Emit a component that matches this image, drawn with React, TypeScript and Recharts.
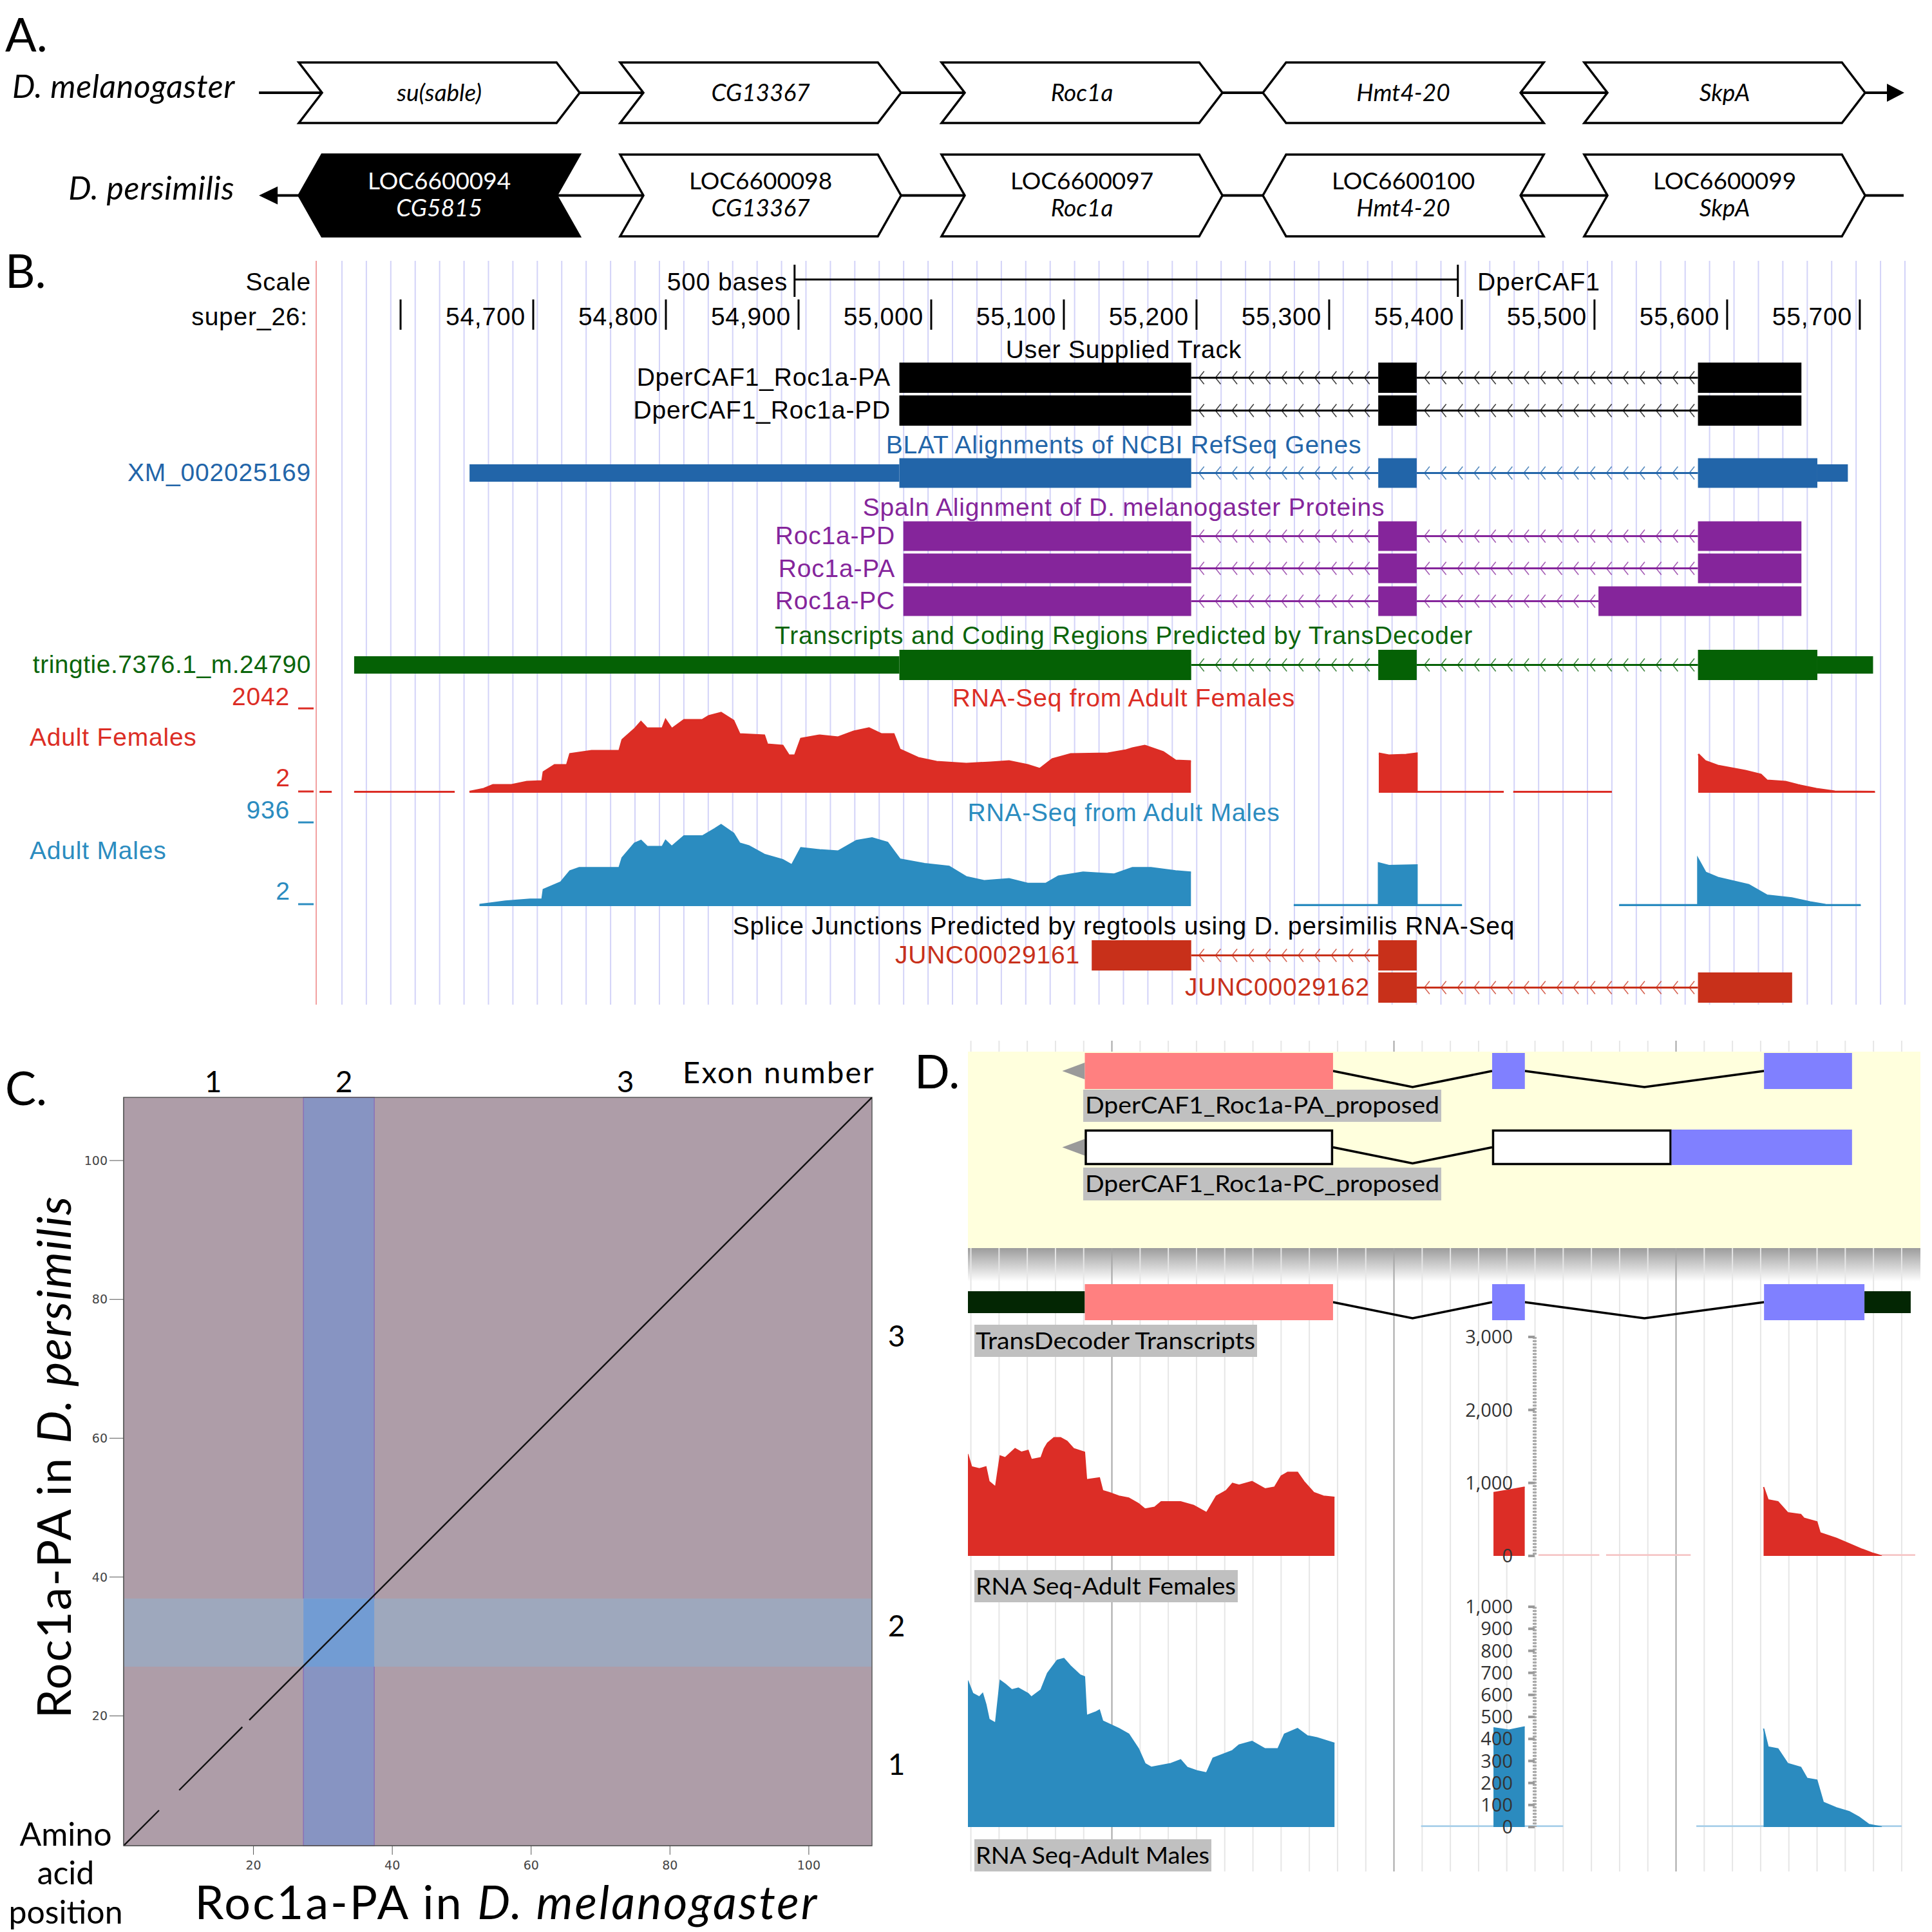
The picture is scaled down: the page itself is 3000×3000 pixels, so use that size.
import React from 'react';
import { ComposedChart, XAxis, YAxis, ReferenceArea, ReferenceLine, Area, Line } from 'recharts';

const ARIAL = '"Liberation Sans", Arial, sans-serif';
const LATO = 'Lato, "Open Sans", sans-serif';
const OPEN = '"Open Sans", sans-serif';
const M0 = { top: 0, right: 0, bottom: 0, left: 0 };

// ---------------- Panel A data ----------------
const A_MEL_NAMES = ['su(sable)', 'CG13367', 'Roc1a', 'Hmt4-20', 'SkpA'];
const A_MEL_STRAND = [1, 1, 1, -1, 1];
const A_PER_IDS = ['LOC6600094', 'LOC6600098', 'LOC6600097', 'LOC6600100', 'LOC6600099'];
const A_PER_NAMES = ['CG5815', 'CG13367', 'Roc1a', 'Hmt4-20', 'SkpA'];
const A_PER_STRAND = [-1, 1, 1, -1, 1];
const A_PER_NOVEL = [true, false, false, false, false];
const A_SLOTS = [0, 1, 2, 3, 4];

// ---------------- Panel B data (genomic coordinates on super_26) ----------------
const B_RULER_TICKS = [54600, 54700, 54800, 54900, 55000, 55100, 55200, 55300, 55400, 55500, 55600, 55700];
const B_SCALE_BAR = [54897, 55397];
const USER_TRACK = [
  { name: 'DperCAF1_Roc1a-PA', blocks: [[54976, 55196], [55337, 55366], [55578, 55656]] },
  { name: 'DperCAF1_Roc1a-PD', blocks: [[54976, 55196], [55337, 55366], [55578, 55656]] },
];
const REFSEQ = { name: 'XM_002025169', blocks: [[54652, 55196], [55337, 55366], [55578, 55691]], thick: [54976, 55668] };
const SPALN = [
  { name: 'Roc1a-PD', blocks: [[54979, 55196], [55337, 55366], [55578, 55656]] },
  { name: 'Roc1a-PA', blocks: [[54979, 55196], [55337, 55366], [55578, 55656]] },
  { name: 'Roc1a-PC', blocks: [[54979, 55196], [55337, 55366], [55503, 55656]] },
];
const TRANSDECODER = { name: 'tringtie.7376.1_m.24790', blocks: [[54565, 55196], [55337, 55366], [55578, 55710]], thick: [54976, 55668] };
const JUNCTIONS = [
  { name: 'JUNC00029161', blocks: [[55121, 55196], [55337, 55366]] },
  { name: 'JUNC00029162', blocks: [[55337, 55366], [55578, 55649]] },
];
const B_FEMALE_MAX = 2042;
const B_FEMALE = [
  [[54538.9, 25], [54548.1, 25]],
  [[54565.0, 25], [54640.8, 25]],
  [[54651.9, 25], [54662.7, 94], [54669.7, 187], [54683.6, 187], [54695.2, 265], [54706.8, 281], [54707.8, 499], [54716.1, 671], [54725.4, 671], [54727.8, 936], [54744.0, 1014], [54764.9, 1014], [54767.2, 1279], [54776.5, 1544], [54781.2, 1716], [54785.8, 1560], [54797.4, 1560], [54799.8, 1763], [54804.4, 1544], [54813.7, 1763], [54827.6, 1763], [54832.3, 1856], [54841.6, 1934], [54850.9, 1747], [54855.5, 1420], [54874.1, 1388], [54876.4, 1170], [54888.0, 1139], [54892.7, 905], [54897.3, 905], [54901.9, 1310], [54915.9, 1388], [54929.8, 1342], [54941.5, 1482], [54953.1, 1560], [54962.3, 1420], [54971.7, 1420], [54976.3, 1045], [54990.2, 842], [55004.1, 749], [55026.5, 702], [55044.8, 733], [55058.7, 764], [55072.7, 671], [55081.9, 577], [55091.3, 811], [55105.2, 936], [55133.1, 952], [55147.0, 1030], [55151.7, 1076], [55160.9, 1139], [55174.9, 983], [55184.2, 780], [55195.8, 764]],
  [[55337.4, 950], [55345, 905], [55358, 920], [55366.0, 950], [55366.0, 25], [55431.6, 25]],
  [[55438.8, 25], [55513.1, 25]],
  [[55578.2, 936], [55583.6, 764], [55592.9, 655], [55613.8, 530], [55625.4, 437], [55630.1, 296], [55644.0, 265], [55653.4, 187], [55667.3, 94], [55681.2, 31], [55711.4, 25]],
];
const B_MALE_MAX = 936;
const B_MALE = [
  [[54659.5, 15], [54679.0, 52], [54697.6, 74], [54706.8, 74], [54707.8, 184], [54720.8, 265], [54727.8, 391], [54734.7, 427], [54764.9, 427], [54767.2, 538], [54776.5, 700], [54781.2, 730], [54785.8, 663], [54797.4, 663], [54799.8, 730], [54804.4, 663], [54813.7, 781], [54827.6, 781], [54836.9, 862], [54841.6, 907], [54850.9, 811], [54855.5, 700], [54862.5, 671], [54874.1, 575], [54888.0, 516], [54895.0, 457], [54901.9, 649], [54915.9, 626], [54929.8, 612], [54943.7, 730], [54955.4, 759], [54967.0, 708], [54976.3, 523], [54994.9, 472], [55013.4, 442], [55026.5, 324], [55040.2, 280], [55058.7, 302], [55072.7, 251], [55086.6, 251], [55095.9, 332], [55114.5, 376], [55137.7, 354], [55151.7, 427], [55165.6, 427], [55184.2, 391], [55195.8, 376]],
  [[55273.3, 12], [55337.4, 12], [55337.4, 479], [55345, 450], [55366, 457], [55366, 12], [55400.1, 12]],
  [[55518.6, 12], [55578.1, 12], [55578.1, 523], [55583.6, 376], [55592.9, 317], [55616.2, 236], [55630.1, 118], [55648.7, 88], [55662.6, 44], [55674.2, 15], [55700.7, 12]],
];

// ---------------- Panel C data (amino-acid positions) ----------------
const C_TICKS = [20, 40, 60, 80, 100];
const C_MATCH_MEL = [[1.3, 6.4], [9.3, 18.4], [19.4, 109.1]];
const C_MATCH_PER = [[1.3, 6.4], [9.3, 18.4], [19.4, 109.1]];
const C_EXON2_MEL = [27.2, 37.4];
const C_EXON2_PER = [27.1, 36.9];

// ---------------- Panel D data ----------------
const D_PA_PROPOSED = { blocks: [[54976, 55196], [55337, 55366], [55578, 55656]], parts: [[54976, 55196, 'cdsA'], [55337, 55366, 'cdsB'], [55578, 55656, 'cdsB']] };
const D_PC_PROPOSED = { blocks: [[54976, 55196], [55337, 55656]], parts: [[54976, 55196, 'nc'], [55337, 55496, 'nc'], [55496, 55656, 'cdsB']] };
const D_TRANSDECODER = { blocks: [[54565, 55196], [55337, 55366], [55578, 55708]], parts: [[54565, 54976, 'utr'], [54976, 55196, 'cdsA'], [55337, 55366, 'cdsB'], [55578, 55667, 'cdsB'], [55667, 55708, 'utr']] };
const D_FEMALE_TICKS = [0, 1000, 2000, 3000];
const D_MALE_TICKS = [0, 100, 200, 300, 400, 500, 600, 700, 800, 900, 1000];
const D_FEMALE = [
  [[54872.2, 1395], [54875.6, 1219], [54882.5, 1194], [54888.3, 1219], [54891.1, 1018], [54896.9, 943], [54901.0, 1370], [54905.5, 1345], [54914.2, 1470], [54919.9, 1420], [54925.7, 1445], [54928.6, 1320], [54937.2, 1345], [54940.1, 1470], [54943.0, 1545], [54948.7, 1620], [54954.5, 1620], [54960.2, 1570], [54966.0, 1470], [54975.7, 1420], [54977.5, 1044], [54988.9, 1069], [54991.8, 893], [54997.6, 868], [55006.2, 818], [55014.9, 793], [55023.5, 717], [55029.3, 642], [55037.9, 667], [55043.7, 742], [55060.9, 742], [55072.4, 692], [55083.9, 592], [55092.6, 818], [55101.2, 893], [55106.9, 993], [55112.7, 968], [55124.2, 1018], [55135.7, 918], [55144.3, 943], [55150.1, 1094], [55155.8, 1144], [55164.5, 1144], [55170.2, 1018], [55178.9, 868], [55187.5, 818], [55197.3, 803]],
  [[55338.2, 868], [55351, 900], [55365.9, 943]],
  [[55577.6, 943], [55581.6, 768], [55590.3, 742], [55599.0, 592], [55610.5, 567], [55613.3, 517], [55624.8, 467], [55627.7, 316], [55642.1, 241], [55653.5, 166], [55665.1, 90], [55673.7, 40], [55682.4, 0]],
];
const D_FEMALE_LOW = [[55378, 55432], [55438, 55513], [55682, 55712]];
const D_MALE = [
  [[54872.2, 665], [54876.7, 606], [54882.5, 590], [54885.4, 606], [54888.3, 556], [54891.1, 489], [54896.9, 472], [54901.0, 665], [54905.5, 648], [54911.3, 623], [54917.1, 631], [54925.7, 606], [54928.6, 590], [54937.2, 623], [54943.0, 698], [54951.6, 757], [54957.4, 765], [54963.1, 732], [54971.8, 690], [54975.7, 682], [54977.5, 506], [54986.1, 523], [54988.9, 531], [54991.8, 481], [55006.2, 447], [55014.9, 422], [55023.5, 355], [55029.3, 288], [55035.0, 271], [55052.3, 288], [55060.9, 305], [55066.7, 271], [55075.3, 255], [55083.9, 246], [55089.7, 313], [55106.9, 347], [55112.7, 372], [55124.2, 389], [55135.7, 355], [55147.2, 355], [55153.0, 422], [55164.5, 447], [55173.1, 414], [55181.8, 405], [55197.3, 380]],
  [[55338.2, 450], [55352, 440], [55365.9, 455]],
  [[55577.6, 447], [55581.6, 363], [55590.3, 355], [55599.0, 288], [55610.5, 271], [55616.1, 221], [55624.8, 213], [55630.5, 112], [55642.1, 87], [55653.5, 70], [55662.1, 45], [55670.8, 12], [55682.4, 0]],
];
const D_MALE_LOW = [[55274, 55400], [55518, 55700]];

// ---------------- layout ----------------
const A_LEFT = 400, A_WIDTH = 2560;
const A_DOMAIN: [number, number] = [-0.1283, 5.002];
const A_BOX_W = 0.874;
const B_LEFT = 491, B_WIDTH = 2504;
const B_DOMAIN: [number, number] = [54536.4, 55752];
const D_LEFT = 1503, D_WIDTH = 1479;
const D_DOMAIN: [number, number] = [54872.4, 55716.6];
const C_DOMAIN: [number, number] = [1.3, 109.1];

const css = `.recharts-surface{overflow:visible}`;

const Abs = ({ left, top, children }: any) => (
  <div style={{ position: 'absolute', left, top }}>{children}</div>
);

const Ghost = () => <Line dataKey="y" stroke="none" dot={false} activeDot={false} isAnimationActive={false} />;

function rowsFromSegments(segs: number[][][]) {
  const rows: any[] = [];
  segs.forEach((seg, i) => {
    seg.forEach(([x, v]) => rows.push({ x, v }));
    if (i < segs.length - 1) rows.push({ x: (seg[seg.length - 1][0] + segs[i + 1][0][0]) / 2, v: null });
  });
  return rows;
}
function rowsFromRanges(ranges: number[][], val: number) {
  return rowsFromSegments(ranges.map(([s, e]) => [[s, val], [e, val]]));
}

// ---------------- Panel A ----------------
function chevronShape(dir: number, fill: string, textFill: string, l1: string, l1Italic: boolean, l2?: string) {
  return (p: any) => {
    const { x, y, width: w, height: h } = p;
    const d = 36, cy = y + h / 2, cx = x + w / 2;
    const pts = dir > 0
      ? [[x, y], [x + w - d, y], [x + w, cy], [x + w - d, y + h], [x, y + h], [x + d, cy]]
      : [[x + d, y], [x + w, y], [x + w - d, cy], [x + w, y + h], [x + d, y + h], [x, cy]];
    const tp = { fontFamily: LATO, fontSize: 37, fill: textFill, textAnchor: 'middle' as const };
    return (
      <g>
        <polygon points={pts.map((q) => q.join(',')).join(' ')} fill={fill} stroke="#000" strokeWidth={3.5} />
        {l2 ? (
          <>
            <text x={cx} y={cy - 10} {...tp}>{l1}</text>
            <text x={cx} y={cy + 32} {...tp} fontStyle="italic">{l2}</text>
          </>
        ) : (
          <text x={cx} y={cy + 13} {...tp} fontStyle={l1Italic ? 'italic' : 'normal'}>{l1}</text>
        )}
      </g>
    );
  };
}
function backboneShape(arrow: 'left' | 'right') {
  return (p: any) => {
    const { x, y, width: w, height: h } = p;
    const cy = y + h / 2;
    const tri = arrow === 'right'
      ? `${x + w},${cy} ${x + w - 27},${cy - 14} ${x + w - 27},${cy + 14}`
      : `${x},${cy} ${x + 29},${cy - 14} ${x + 29},${cy + 14}`;
    return (
      <g>
        <line x1={x + (arrow === 'left' ? 20 : 0)} x2={x + w - (arrow === 'right' ? 20 : 0)} y1={cy} y2={cy} stroke="#000" strokeWidth={4} />
        <polygon points={tri} fill="#000" />
      </g>
    );
  };
}
function ARow({ top, height, backbone, arrow, genes }: any) {
  return (
    <Abs left={A_LEFT} top={top}>
      <ComposedChart width={A_WIDTH} height={height} data={A_SLOTS.map((s) => ({ x: s, y: 0.5 }))} margin={M0}>
        <XAxis type="number" dataKey="x" domain={A_DOMAIN} hide allowDataOverflow />
        <YAxis type="number" domain={[0, 1]} hide />
        <ReferenceArea x1={backbone[0]} x2={backbone[1]} y1={0} y2={1} ifOverflow="visible" shape={backboneShape(arrow)} />
        {genes.map((g: any, i: number) => (
          <ReferenceArea key={i} x1={A_SLOTS[i]} x2={A_SLOTS[i] + A_BOX_W} y1={0} y2={1} ifOverflow="visible"
            shape={chevronShape(g.dir, g.fill, g.textFill, g.l1, g.l1Italic, g.l2)} />
        ))}
        <Ghost />
      </ComposedChart>
    </Abs>
  );
}

// ---------------- Panel B ----------------
function ucscIntron(color: string) {
  return (p: any) => {
    const { x, y, width: w, height: h } = p;
    const cy = y + h / 2;
    const ch: any[] = [];
    for (let cx = x + 12; cx < x + w - 6; cx += 25.7) {
      ch.push(<polyline key={cx} points={`${cx + 8},${cy - 10} ${cx},${cy} ${cx + 8},${cy + 10}`} fill="none" stroke={color} strokeOpacity={0.75} strokeWidth={1.6} />);
    }
    return (
      <g>
        <line x1={x} x2={x + w} y1={cy} y2={cy} stroke={color} strokeWidth={3} />
        {ch}
      </g>
    );
  };
}
function barShape(h: number, fill: string) {
  return (p: any) => <rect x={p.x} y={p.y + (p.height - h) / 2} width={p.width} height={h} fill={fill} />;
}
function UcscRow({ top, height, blocks, thick, color, thickH, thinH }: any) {
  const pieces: any[] = [];
  blocks.forEach(([s, e]: number[]) => {
    if (!thick) { pieces.push([s, e, thickH]); return; }
    const [ts, te] = thick;
    if (s < ts) pieces.push([s, Math.min(e, ts), thinH]);
    const a = Math.max(s, ts), b = Math.min(e, te);
    if (a < b) pieces.push([a, b, thickH]);
    if (e > te) pieces.push([Math.max(s, te), e, thinH]);
  });
  const introns = blocks.slice(1).map((b: number[], i: number) => [blocks[i][1], b[0]]);
  return (
    <Abs left={B_LEFT} top={top}>
      <ComposedChart width={B_WIDTH} height={height} data={blocks.map((b: number[]) => ({ x: b[0], y: 0.5 }))} margin={M0}>
        <XAxis type="number" dataKey="x" domain={B_DOMAIN} hide allowDataOverflow />
        <YAxis type="number" domain={[0, 1]} hide />
        {introns.map(([s, e]: number[], i: number) => (
          <ReferenceArea key={'i' + i} x1={s} x2={e} y1={0} y2={1} ifOverflow="visible" shape={ucscIntron(color)} />
        ))}
        {pieces.map(([s, e, h]: number[], i: number) => (
          <ReferenceArea key={'p' + i} x1={s} x2={e} y1={0} y2={1} ifOverflow="visible" shape={barShape(h, color)} />
        ))}
        <Ghost />
      </ComposedChart>
    </Abs>
  );
}
function Coverage({ left, top, width, height, domain, max, segments, color, strokeW = 3 }: any) {
  return (
    <Abs left={left} top={top}>
      <ComposedChart width={width} height={height} data={rowsFromSegments(segments)} margin={M0}>
        <XAxis type="number" dataKey="x" domain={domain} hide allowDataOverflow />
        <YAxis type="number" domain={[0, max]} hide allowDataOverflow />
        <Area type="linear" dataKey="v" stroke={color} strokeWidth={strokeW} fill={color} fillOpacity={1}
          connectNulls={false} dot={false} activeDot={false} isAnimationActive={false} />
      </ComposedChart>
    </Abs>
  );
}
function LowLine({ left, top, width, height, domain, max, ranges, val, color }: any) {
  return (
    <Abs left={left} top={top}>
      <ComposedChart width={width} height={height} data={rowsFromRanges(ranges, val)} margin={M0}>
        <XAxis type="number" dataKey="x" domain={domain} hide allowDataOverflow />
        <YAxis type="number" domain={[0, max]} hide allowDataOverflow />
        <Line type="linear" dataKey="v" stroke={color} strokeWidth={3} connectNulls={false} dot={false} activeDot={false} isAnimationActive={false} />
      </ComposedChart>
    </Abs>
  );
}
// ruler chart: top at y=405; the top axis band occupies 0..50, drawing uses absolute offsets inside the chart
const RulerTick = (p: any) => {
  const { x, payload } = p;
  const v = payload.value;
  return (
    <g>
      <line x1={x} x2={x} y1={60} y2={107} stroke="#000" strokeWidth={3} />
      {v !== B_RULER_TICKS[0] && (
        <text x={x - 12} y={100} textAnchor="end" fontSize={39} letterSpacing={0.8} fontFamily={ARIAL} fill="#000">
          {v.toLocaleString('en-US')}
        </text>
      )}
    </g>
  );
};
const scaleBarShape = (p: any) => {
  const { x, width: w } = p;
  return (
    <g>
      <line x1={x} x2={x + w} y1={29} y2={29} stroke="#000" strokeWidth={3} />
      <line x1={x} x2={x} y1={6} y2={56} stroke="#000" strokeWidth={3} />
      <line x1={x + w} x2={x + w} y1={6} y2={56} stroke="#000" strokeWidth={3} />
    </g>
  );
};

// ---------------- Panel D ----------------
const D_COLORS: any = { cdsA: '#ff8080', cdsB: '#8080ff' };
function jPart(kind: string) {
  return (p: any) => {
    const { x, y, width: w, height: h } = p;
    if (kind === 'nc') return <rect x={x + 1.5} y={y + 1.5} width={w - 3} height={h - 3} fill="#fff" stroke="#000" strokeWidth={3.5} />;
    if (kind === 'utr') return <rect x={x} y={y + (h - 34) / 2} width={w} height={34} fill="#032603" />;
    return <rect x={x} y={y} width={w} height={h} fill={D_COLORS[kind]} />;
  };
}
const jIntron = (p: any) => {
  const { x, y, width: w, height: h } = p;
  const cy = y + h / 2;
  return <polyline points={`${x},${cy} ${x + w / 2},${cy + 25} ${x + w},${cy}`} fill="none" stroke="#000" strokeWidth={3.5} />;
};
const jArrow = (p: any) => {
  const { x, y, width: w, height: h } = p;
  const cy = y + h / 2;
  return <polygon points={`${x},${cy} ${x + w},${cy - 13} ${x + w},${cy + 13}`} fill="#9a9a9a" />;
};
function JRow({ top, height, tr, arrow }: any) {
  const introns = tr.blocks.slice(1).map((b: number[], i: number) => [tr.blocks[i][1], b[0]]);
  const clip = (v: number) => Math.min(Math.max(v, D_DOMAIN[0]), D_DOMAIN[1]);
  return (
    <Abs left={D_LEFT} top={top}>
      <ComposedChart width={D_WIDTH} height={height} data={tr.blocks.map((b: number[]) => ({ x: b[0], y: 0.5 }))} margin={M0}>
        <XAxis type="number" dataKey="x" domain={D_DOMAIN} hide allowDataOverflow />
        <YAxis type="number" domain={[0, 1]} hide />
        {arrow && <ReferenceArea x1={tr.blocks[0][0] - 20} x2={tr.blocks[0][0]} y1={0} y2={1} ifOverflow="visible" shape={jArrow} />}
        {introns.map(([s, e]: number[], i: number) => (
          <ReferenceArea key={'i' + i} x1={s} x2={e} y1={0} y2={1} ifOverflow="visible" shape={jIntron} />
        ))}
        {tr.parts.map(([s, e, k]: any, i: number) => (
          <ReferenceArea key={'p' + i} x1={clip(s)} x2={clip(e)} y1={0} y2={1} ifOverflow="visible" shape={jPart(k)} />
        ))}
        <Ghost />
      </ComposedChart>
    </Abs>
  );
}
function DAxis({ top, height, max, ticks }: any) {
  return (
    <Abs left={2383 - 120} top={top}>
      <ComposedChart width={130} height={height} data={[{ x: 0, y: 0 }, { x: 1, y: 0 }]} margin={M0}>
        <XAxis type="number" dataKey="x" domain={[0, 1]} hide />
        <YAxis type="number" domain={[0, max]} ticks={ticks} width={120} interval={0} tickSize={10} tickMargin={24}
          axisLine={{ stroke: '#ababab', strokeWidth: 6, strokeDasharray: '3 2' }}
          tickLine={{ stroke: '#9a9a9a', strokeWidth: 4 }}
          tick={{ fontSize: 29, fill: '#333', fontFamily: OPEN }}
          tickFormatter={(v: number) => v.toLocaleString('en-US')} />
        <Ghost />
      </ComposedChart>
    </Abs>
  );
}

// ---------------- text helper ----------------
const T = ({ x, y, s = 39, f = ARIAL, c = '#000', a = 'start', it = false, ls, children, ...rest }: any) => (
  <text x={x} y={y} fontSize={s} fontFamily={f} fill={c} textAnchor={a} fontStyle={it ? 'italic' : 'normal'} letterSpacing={ls} {...rest}>
    {children}
  </text>
);

const BLUE = '#2265a9', PURPLE = '#85259b', GREEN = '#0b650b', RED = '#dc2d25', MBLUE = '#2b8cc0', JRED = '#c8301a';

export default function App() {
  const melGenes = A_MEL_NAMES.map((n, i) => ({ dir: A_MEL_STRAND[i], fill: '#fff', textFill: '#000', l1: n, l1Italic: true }));
  const perGenes = A_PER_IDS.map((id, i) => ({
    dir: A_PER_STRAND[i], fill: A_PER_NOVEL[i] ? '#000' : '#fff', textFill: A_PER_NOVEL[i] ? '#fff' : '#000', l1: id, l1Italic: false, l2: A_PER_NAMES[i],
  }));
  const bGrid: number[] = [];
  for (let i = 0; i < 65; i++) bGrid.push(54555.8 + i * 18.41);
  const dGrid: number[] = [];
  for (let v = 54875; v <= 55700; v += 25) dGrid.push(v);
  const dMajor = [55000, 55250, 55500];
  const cRows: any[] = [];
  C_MATCH_MEL.forEach((m, i) => {
    cRows.push({ x: m[0], y: C_MATCH_PER[i][0] }, { x: m[1], y: C_MATCH_PER[i][1] });
    if (i < C_MATCH_MEL.length - 1) cRows.push({ x: (m[1] + C_MATCH_MEL[i + 1][0]) / 2, y: null });
  });

  return (
    <div style={{ position: 'absolute', left: 0, top: 0, width: 3000, height: 3000, background: '#fff', overflow: 'hidden' }}>
      <style>{css}</style>

      {/* ===== Panel A ===== */}
      <ARow top={97} height={94} backbone={[-0.124, 4.996]} arrow="right" genes={melGenes} />
      <ARow top={240} height={127} backbone={[-0.124, 4.994]} arrow="left" genes={perGenes} />

      {/* ===== Panel B ===== */}
      <Abs left={B_LEFT} top={405}>
        <ComposedChart width={B_WIDTH} height={1155} data={[{ x: B_DOMAIN[0], y: 0 }, { x: B_DOMAIN[1], y: 0 }]} margin={M0}>
          <XAxis type="number" dataKey="x" domain={B_DOMAIN} hide allowDataOverflow />
          <YAxis type="number" domain={[0, 1]} hide />
          {bGrid.map((g) => <ReferenceLine key={g} x={g} stroke="#d3d3f8" strokeWidth={2} ifOverflow="hidden" />)}
          <ReferenceLine x={B_DOMAIN[0]} stroke="#f2a0a0" strokeWidth={2} ifOverflow="visible" />
          <Ghost />
        </ComposedChart>
      </Abs>
      <Abs left={B_LEFT} top={405}>
        <ComposedChart width={B_WIDTH} height={110} data={[{ x: B_DOMAIN[0], y: 0 }, { x: B_DOMAIN[1], y: 0 }]} margin={M0}>
          <XAxis type="number" dataKey="x" domain={B_DOMAIN} orientation="top" height={50} ticks={B_RULER_TICKS} interval={0}
            tick={RulerTick} tickLine={false} axisLine={false} allowDataOverflow />
          <YAxis type="number" domain={[0, 1]} hide />
          <ReferenceArea x1={B_SCALE_BAR[0]} x2={B_SCALE_BAR[1]} y1={0} y2={1} ifOverflow="visible" shape={scaleBarShape} />
          <Ghost />
        </ComposedChart>
      </Abs>
      {USER_TRACK.map((t, i) => (
        <UcscRow key={t.name} top={560.5 + i * 51} height={51} blocks={t.blocks} color="#000" thickH={47} thinH={27} />
      ))}
      <UcscRow top={708.5} height={51} blocks={REFSEQ.blocks} thick={REFSEQ.thick} color={BLUE} thickH={46} thinH={27} />
      {SPALN.map((t, i) => (
        <UcscRow key={t.name} top={806.5 + i * 50.5} height={51} blocks={t.blocks} color={PURPLE} thickH={46} thinH={27} />
      ))}
      <UcscRow top={1006.5} height={51} blocks={TRANSDECODER.blocks} thick={TRANSDECODER.thick} color="#056105" thickH={47} thinH={27} />
      <Coverage left={B_LEFT} top={1100} width={B_WIDTH} height={131} domain={B_DOMAIN} max={B_FEMALE_MAX} segments={B_FEMALE} color={RED} />
      <Coverage left={B_LEFT} top={1277} width={B_WIDTH} height={130} domain={B_DOMAIN} max={B_MALE_MAX} segments={B_MALE} color={MBLUE} />
      {JUNCTIONS.map((t, i) => (
        <UcscRow key={t.name} top={1457.5 + i * 50} height={51} blocks={t.blocks} color={JRED} thickH={47} thinH={27} />
      ))}

      {/* ===== Panel C ===== */}
      <Abs left={112} top={1704}>
        <ComposedChart width={1242} height={1222} data={cRows} margin={M0}>
          <XAxis type="number" dataKey="x" domain={C_DOMAIN} ticks={C_TICKS} interval={0} allowDataOverflow height={60}
            tickSize={14} tickMargin={10} stroke="#555" tick={{ fontSize: 19, fill: '#444', fontFamily: '"DejaVu Sans", sans-serif' }} />
          <YAxis type="number" domain={C_DOMAIN} ticks={C_TICKS} interval={0} allowDataOverflow width={80}
            tickSize={22} tickMargin={3} stroke="#555" tick={{ fontSize: 19, fill: '#444', fontFamily: '"DejaVu Sans", sans-serif' }} />
          <ReferenceArea x1={C_DOMAIN[0]} x2={C_DOMAIN[1]} y1={C_DOMAIN[0]} y2={C_DOMAIN[1]} fill="#ae9da8" fillOpacity={1} ifOverflow="visible" />
          <ReferenceArea x1={C_EXON2_MEL[0]} x2={C_EXON2_MEL[1]} y1={C_DOMAIN[0]} y2={C_DOMAIN[1]} fill="#8794c2" fillOpacity={1} stroke="#8a70b8" strokeWidth={1.5} ifOverflow="visible" />
          <ReferenceArea x1={C_DOMAIN[0]} x2={C_DOMAIN[1]} y1={C_EXON2_PER[0]} y2={C_EXON2_PER[1]} fill="#9ea8bd" fillOpacity={1} ifOverflow="visible" />
          <ReferenceArea x1={C_EXON2_MEL[0]} x2={C_EXON2_MEL[1]} y1={C_EXON2_PER[0]} y2={C_EXON2_PER[1]} fill="#729cd3" fillOpacity={1} ifOverflow="visible" />
          <ReferenceArea x1={C_DOMAIN[0]} x2={C_DOMAIN[1]} y1={C_DOMAIN[0]} y2={C_DOMAIN[1]} fill="none" fillOpacity={0} stroke="#5a5a5a" strokeWidth={1.5} ifOverflow="visible" />
          <Line type="linear" dataKey="y" stroke="#111" strokeWidth={2.4} dot={false} activeDot={false} connectNulls={false} isAnimationActive={false} />
        </ComposedChart>
      </Abs>

      {/* ===== Panel D ===== */}
      <div style={{ position: 'absolute', left: D_LEFT, top: 1938, width: D_WIDTH, height: 52, background: 'linear-gradient(#9c9c9c, #ffffff)' }} />
      <Abs left={D_LEFT} top={1616}>
        <ComposedChart width={D_WIDTH} height={1290} data={[{ x: D_DOMAIN[0], y: 0 }, { x: D_DOMAIN[1], y: 0 }]} margin={M0}>
          <XAxis type="number" dataKey="x" domain={D_DOMAIN} hide allowDataOverflow />
          <YAxis type="number" domain={[0, 1]} hide />
          {dGrid.map((g) => (
            <ReferenceLine key={g} x={g} stroke={dMajor.includes(g) ? '#a6a6a6' : '#e6e6e6'} strokeWidth={2} ifOverflow="hidden" />
          ))}
          <Ghost />
        </ComposedChart>
      </Abs>
      <div style={{ position: 'absolute', left: D_LEFT, top: 1633, width: D_WIDTH, height: 305, background: '#ffffdd' }} />
      <JRow top={1635} height={56} tr={D_PA_PROPOSED} arrow />
      <JRow top={1754} height={55} tr={D_PC_PROPOSED} arrow />
      <JRow top={1994} height={56} tr={D_TRANSDECODER} />
      <LowLine left={D_LEFT} top={2076} width={D_WIDTH} height={340} domain={D_DOMAIN} max={3000} ranges={D_FEMALE_LOW} val={12} color="#f6c6c6" />
      <Coverage left={D_LEFT} top={2076} width={D_WIDTH} height={340} domain={D_DOMAIN} max={3000} segments={D_FEMALE} color="#dc2d26" strokeW={2} />
      <LowLine left={D_LEFT} top={2495} width={D_WIDTH} height={342} domain={D_DOMAIN} max={1000} ranges={D_MALE_LOW} val={4} color="#a8d0ea" />
      <Coverage left={D_LEFT} top={2495} width={D_WIDTH} height={342} domain={D_DOMAIN} max={1000} segments={D_MALE} color="#2b8bbf" strokeW={2} />
      <DAxis top={2076} height={340} max={3000} ticks={D_FEMALE_TICKS} />
      <DAxis top={2495} height={342} max={1000} ticks={D_MALE_TICKS} />

      {/* ===== Text overlay ===== */}
      <svg width={3000} height={3000} style={{ position: 'absolute', left: 0, top: 0, pointerEvents: 'none' }}>
        {/* Panel A */}
        <T x={8} y={80} s={72} f={LATO}>A.</T>
        <T x={19} y={152} s={50} f={LATO} it ls={0.6}>D. melanogaster</T>
        <T x={364} y={310} s={50} f={LATO} it a="end" ls={0.6}>D. persimilis</T>

        {/* Panel B */}
        <T x={8} y={447} s={72} f={LATO}>B.</T>
        <T x={483} y={451} a="end" ls={0.8}>Scale</T>
        <T x={1223} y={451} a="end" ls={0.8}>500 bases</T>
        <T x={2294} y={451} ls={0.8}>DperCAF1</T>
        <T x={478} y={505} a="end" ls={0.8}>super_26:</T>
        <T x={1745} y={556} a="middle" ls={0.8}>User Supplied Track</T>
        <T x={1383} y={599} a="end" ls={0.8}>{USER_TRACK[0].name}</T>
        <T x={1383} y={650} a="end" ls={0.8}>{USER_TRACK[1].name}</T>
        <T x={1745} y={704} a="middle" c={BLUE} ls={0.8}>BLAT Alignments of NCBI RefSeq Genes</T>
        <T x={483} y={747} a="end" c={BLUE} ls={0.8}>{REFSEQ.name}</T>
        <T x={1745} y={801} a="middle" c={PURPLE} ls={0.8}>Spaln Alignment of D. melanogaster Proteins</T>
        {SPALN.map((t, i) => (
          <T key={t.name} x={1390} y={845 + i * 50.5} a="end" c={PURPLE} ls={0.8}>{t.name}</T>
        ))}
        <T x={1745} y={1000} a="middle" c={GREEN} ls={0.8}>Transcripts and Coding Regions Predicted by TransDecoder</T>
        <T x={483} y={1045} a="end" c={GREEN} ls={0.5}>{TRANSDECODER.name}</T>
        <T x={450} y={1095} a="end" c={RED} ls={0.8}>{String(B_FEMALE_MAX)}</T>
        <line x1={463} x2={487} y1={1100} y2={1100} stroke={RED} strokeWidth={3} />
        <T x={1745} y={1097} a="middle" c={RED} ls={0.8}>RNA-Seq from Adult Females</T>
        <T x={46} y={1158} c={RED} ls={0.8}>Adult Females</T>
        <T x={450} y={1221} a="end" c={RED}>2</T>
        <line x1={463} x2={487} y1={1229} y2={1229} stroke={RED} strokeWidth={3} />
        <T x={450} y={1271} a="end" c={MBLUE} ls={0.8}>{String(B_MALE_MAX)}</T>
        <line x1={463} x2={487} y1={1277} y2={1277} stroke={MBLUE} strokeWidth={3} />
        <T x={1745} y={1275} a="middle" c={MBLUE} ls={0.8}>RNA-Seq from Adult Males</T>
        <T x={46} y={1334} c={MBLUE} ls={0.8}>Adult Males</T>
        <T x={450} y={1397} a="end" c={MBLUE}>2</T>
        <line x1={463} x2={487} y1={1404} y2={1404} stroke={MBLUE} strokeWidth={3} />
        <T x={1745} y={1451} a="middle" ls={0.8}>Splice Junctions Predicted by regtools using D. persimilis RNA-Seq</T>
        <T x={1677} y={1496} a="end" c={JRED} ls={0.8}>{JUNCTIONS[0].name}</T>
        <T x={2127} y={1546} a="end" c={JRED} ls={0.8}>{JUNCTIONS[1].name}</T>

        {/* Panel C */}
        <T x={8} y={1716} s={72} f={LATO}>C.</T>
        <T x={331} y={1696} s={46} f={LATO} a="middle">1</T>
        <T x={534} y={1696} s={46} f={LATO} a="middle">2</T>
        <T x={971} y={1696} s={46} f={LATO} a="middle">3</T>
        <T x={1060} y={1682} s={47} f={LATO} ls={2.3}>Exon number</T>
        <T x={1392} y={2091} s={46} f={LATO} a="middle">3</T>
        <T x={1392} y={2541} s={46} f={LATO} a="middle">2</T>
        <T x={1392} y={2756} s={46} f={LATO} a="middle">1</T>
        <T x={102} y={2866} s={50} f={LATO} a="middle">Amino</T>
        <T x={102} y={2926} s={50} f={LATO} a="middle">acid</T>
        <T x={102} y={2987} s={50} f={LATO} a="middle">position</T>
        <text x={787} y={2980} fontSize={72} fontFamily={LATO} textAnchor="middle" letterSpacing={3}>
          Roc1a-PA in <tspan fontStyle="italic">D. melanogaster</tspan>
        </text>
        <text transform="translate(110,2262) rotate(-90)" fontSize={72} fontFamily={LATO} textAnchor="middle" letterSpacing={2}>
          Roc1a-PA in <tspan fontStyle="italic">D. persimilis</tspan>
        </text>

        {/* Panel D */}
        <T x={1420} y={1690} s={72} f={LATO}>D.</T>
        <rect x={1682} y={1692} width={556} height={50} fill="#c0c0c0" />
        <T x={1685} y={1729} s={36} f={LATO} textLength={550} lengthAdjust="spacingAndGlyphs">DperCAF1_Roc1a-PA_proposed</T>
        <rect x={1682} y={1813} width={556} height={51} fill="#c0c0c0" />
        <T x={1685} y={1851} s={36} f={LATO} textLength={550} lengthAdjust="spacingAndGlyphs">DperCAF1_Roc1a-PC_proposed</T>
        <rect x={1513} y={2057} width={439} height={50} fill="#c0c0c0" />
        <T x={1515} y={2095} s={36} f={LATO} textLength={434} lengthAdjust="spacingAndGlyphs">TransDecoder Transcripts</T>
        <rect x={1513} y={2438} width={409} height={50} fill="#c0c0c0" />
        <T x={1515} y={2476} s={36} f={LATO} textLength={404} lengthAdjust="spacingAndGlyphs">RNA Seq-Adult Females</T>
        <rect x={1513} y={2856} width={368} height={50} fill="#c0c0c0" />
        <T x={1515} y={2894} s={36} f={LATO} textLength={363} lengthAdjust="spacingAndGlyphs">RNA Seq-Adult Males</T>
      </svg>
    </div>
  );
}
